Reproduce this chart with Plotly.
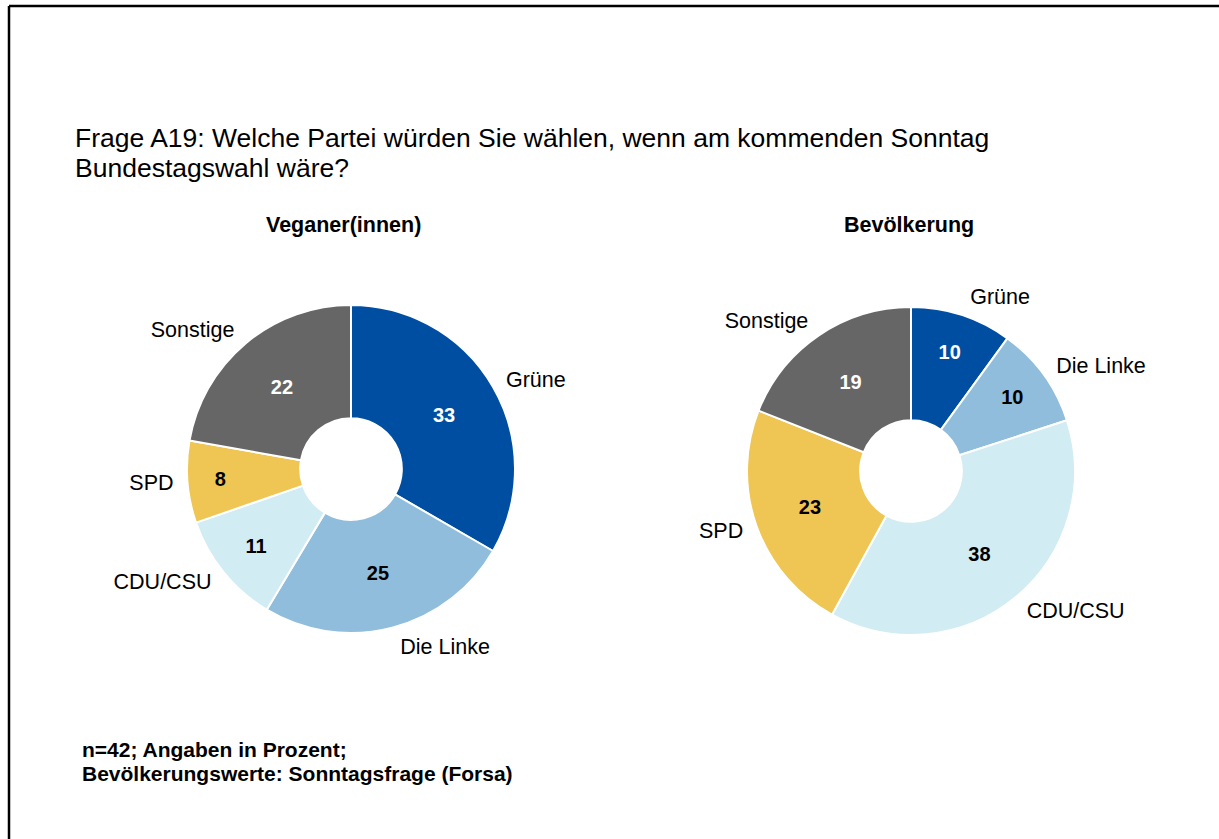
import plotly.graph_objects as go

parties = ["Grüne", "Die Linke", "CDU/CSU", "SPD", "Sonstige"]
vegan_values = [33, 25, 11, 8, 22]
population_values = [10, 10, 38, 23, 19]
colors = ["#004ea2", "#8fbddb", "#d2ecf3", "#efc554", "#666666"]
value_font_colors = ["white", "black", "black", "black", "white"]

title_lines = ["Frage A19: Welche Partei würden Sie wählen, wenn am kommenden Sonntag",
               "Bundestagswahl wäre?"]
subtitles = ["Veganer(innen)", "Bevölkerung"]
footnote = ["n=42; Angaben in Prozent;", "Bevölkerungswerte: Sonntagsfrage (Forsa)"]

W, H = 1219, 839
FONT = "Liberation Sans, Arial, sans-serif"


def dom(cx, cy, r):
    return dict(x=[(cx - r) / W, (cx + r) / W], y=[(H - cy - r) / H, (H - cy + r) / H])


fig = go.Figure()

for vals, cx, cy in [(vegan_values, 351, 469), (population_values, 911, 471)]:
    # main donut with values inside
    fig.add_trace(go.Pie(
        labels=parties, values=vals, sort=False, direction="clockwise", rotation=0,
        hole=0.31, domain=dom(cx, cy, 164),
        marker=dict(colors=colors, line=dict(color="white", width=2)),
        textinfo="value", textposition="inside", insidetextorientation="horizontal",
        textfont=dict(family=FONT, size=20, color=value_font_colors, weight="bold"),
        showlegend=False, hoverinfo="label+value",
    ))
    # transparent pie carrying the category labels outside
    fig.add_trace(go.Pie(
        labels=parties, values=vals, sort=False, direction="clockwise", rotation=0,
        domain=dom(cx, cy, 172),
        marker=dict(colors=["rgba(0,0,0,0)"] * 5, line=dict(width=0)),
        textinfo="label", textposition="outside",
        outsidetextfont=dict(family=FONT, size=21.5, color="black"),
        showlegend=False, hoverinfo="skip",
    ))

annotations = []
for i, line in enumerate(title_lines):
    annotations.append(dict(text=line, x=73 / W, y=1 - (138 + 30 * i) / H, xref="paper", yref="paper",
                            xanchor="left", yanchor="middle", showarrow=False,
                            font=dict(family=FONT, size=26.5, color="black")))
for txt, cx in zip(subtitles, [343, 909]):
    annotations.append(dict(text="<b>" + txt + "</b>", x=cx / W, y=1 - 225 / H, xref="paper", yref="paper",
                            xanchor="center", yanchor="middle", showarrow=False,
                            font=dict(family=FONT, size=21.5, color="black")))
for i, line in enumerate(footnote):
    annotations.append(dict(text="<b>" + line + "</b>", x=80 / W, y=1 - (749 + 24 * i) / H, xref="paper", yref="paper",
                            xanchor="left", yanchor="middle", showarrow=False,
                            font=dict(family=FONT, size=21, color="black")))

shapes = [
    dict(type="line", xref="paper", yref="paper", x0=9 / W, x1=1.0, y0=1 - 6 / H, y1=1 - 6 / H,
         line=dict(color="black", width=2.5)),
    dict(type="line", xref="paper", yref="paper", x0=9 / W, x1=9 / W, y0=0, y1=1 - 6 / H,
         line=dict(color="black", width=2.5)),
]

fig.update_layout(
    width=W, height=H, margin=dict(l=0, r=0, t=0, b=0),
    paper_bgcolor="white", plot_bgcolor="white",
    annotations=annotations, shapes=shapes,
    font=dict(family=FONT),
)

fig.write_html("out.html", config={"displayModeBar": False},
               post_script="document.body.style.margin='0';")
